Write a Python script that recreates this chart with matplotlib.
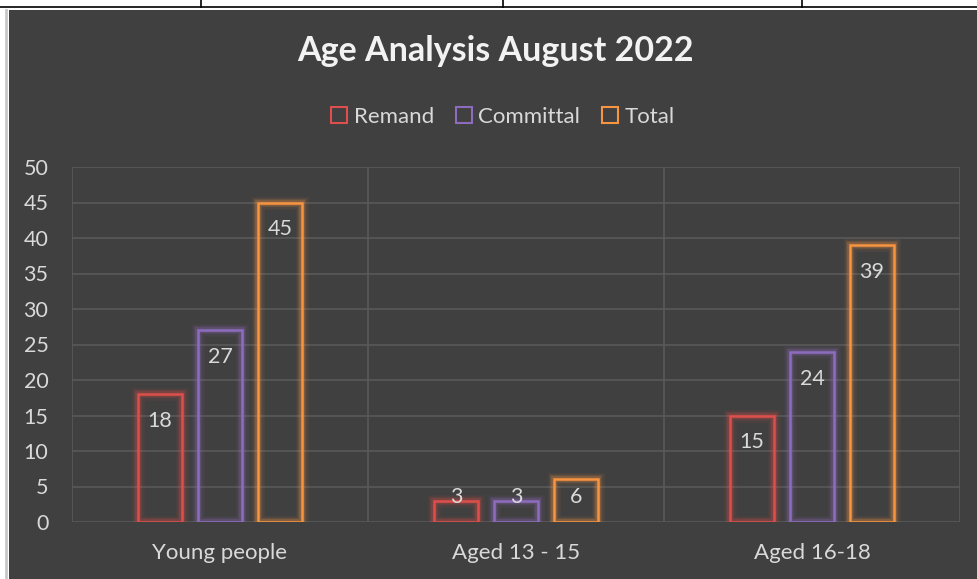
import matplotlib.pyplot as plt
from matplotlib.patches import Patch, Rectangle
from matplotlib.lines import Line2D

categories = ["Young people", "Aged 13 - 15", "Aged 16-18"]
series_names = ["Remand", "Committal", "Total"]
remand = [18, 3, 15]
committal = [27, 3, 24]
total = [45, 6, 39]
y_ticks = [0, 5, 10, 15, 20, 25, 30, 35, 40, 45, 50]

colors = ["#dc4f4c", "#8d6bbd", "#f79440"]
bg = "#404040"
grid_c = "#595959"
text_c = "#d9d9d9"

plt.rcParams['font.family'] = ['Lato', 'DejaVu Sans']

W, H = 978, 579
fig = plt.figure(figsize=(W / 100, H / 100), dpi=100)
fig.patch.set_facecolor("white")

# dark chart area and the table lines above it
fig.add_artist(Rectangle((9 / W, 0), 1, 1 - 10 / H, transform=fig.transFigure,
                         facecolor=bg, edgecolor="none", zorder=0))
fig.add_artist(Line2D([0, 1], [1 - 7 / H, 1 - 7 / H], transform=fig.transFigure,
                      color="black", lw=1.2))
for xp in [201, 503, 802]:
    fig.add_artist(Line2D([xp / W, xp / W], [1 - 7 / H, 1], transform=fig.transFigure,
                          color="black", lw=1.2))
fig.add_artist(Line2D([6 / W, 6 / W], [0, 1 - 10 / H], transform=fig.transFigure,
                      color="#c8c8c8", lw=2))

ax = fig.add_axes([72 / W, 1 - 522 / H, 888 / W, 355 / H])
ax.set_facecolor("none")
ax.set_xlim(-0.5, 2.5)
ax.set_ylim(0, 50)

for y in y_ticks:
    ax.axhline(y, color=grid_c, lw=1.2, zorder=1)
for xv in [-0.5, 0.5, 1.5, 2.5]:
    ax.axvline(xv, color=grid_c, lw=1.2, zorder=1)

data = [remand, committal, total]
step = 0.2027
width = 0.149
x = list(range(len(categories)))
for j, (vals, c) in enumerate(zip(data, colors)):
    xs = [i + (j - 1) * step for i in x]
    # soft glow
    for lw, a in [(9, 0.08), (6, 0.14), (4, 0.22)]:
        ax.bar(xs, vals, width, fill=False, edgecolor=c, linewidth=lw, alpha=a, zorder=2)
    ax.bar(xs, vals, width, fill=False, edgecolor=c, linewidth=1.8, zorder=3)
    for xx, v in zip(xs, vals):
        ax.text(xx, max(v - 3.8, 3.5), str(v), ha="center", va="center",
                color=text_c, fontsize=15.5, zorder=4)

for s in ax.spines.values():
    s.set_visible(False)
ax.set_yticks(y_ticks)
ax.set_yticklabels([str(t) for t in y_ticks], color=text_c, fontsize=15.5)
ax.set_xticks(x)
ax.set_xticklabels(categories, color=text_c, fontsize=16)
ax.tick_params(axis="both", length=0)
ax.tick_params(axis="y", pad=17)
ax.tick_params(axis="x", pad=15)

fig.text(496 / W, 1 - 51 / H, "Age Analysis August 2022", ha="center", va="center",
         color="#f2f2f2", fontsize=24.5, fontweight="bold")

handles = [Patch(facecolor="none", edgecolor=c, linewidth=1.5, label=n)
           for c, n in zip(colors, series_names)]
fig.legend(handles=handles, loc="center", bbox_to_anchor=(503 / W, 1 - 117 / H), ncol=3,
           frameon=False, fontsize=16, labelcolor=text_c, handlelength=0.7,
           handleheight=0.7, handletextpad=0.3, columnspacing=1.0)

fig.savefig("out.png", dpi=100, facecolor=fig.get_facecolor())
